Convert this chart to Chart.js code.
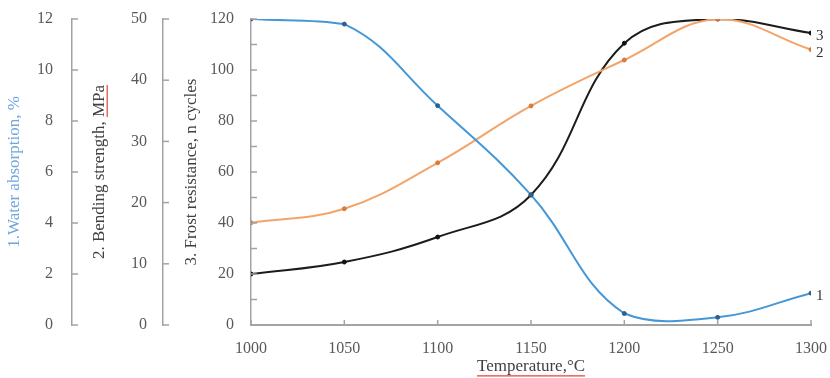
<!DOCTYPE html>
<html lang="en">
<head>
  <meta charset="UTF-8" />
  <title>Firing temperature vs ceramic properties</title>
  <script src="https://cdn.jsdelivr.net/npm/chart.js"></script>
  <style>
    html, body { margin: 0; padding: 0; background: #fff; }
    .wrap { width: 830px; height: 378px; }
  </style>
</head>
<body>
  <div class="wrap"><canvas id="propsChart"></canvas></div>
  <script>
    // values
    const temps = [1000, 1050, 1100, 1150, 1200, 1250, 1300];
    const waterAbsorption = [12, 11.8, 8.6, 5.1, 0.45, 0.3, 1.25];
    const bendingStrength = [16.7, 19, 26.5, 35.8, 43.3, 50, 45];
    const frostResistance = [20, 24.7, 34.5, 51, 110.5, 120, 114.5];
    const seriesTags = ['1', '2', '3'];

    const axisColor = '#a3a3a3';
    const textColor = '#595959';
    const serif = 'Liberation Serif, Times New Roman, serif';

    const toPoints = ys => temps.map((t, i) => ({ x: t, y: ys[i] }));

    // small inward tick marks along each axis line
    const minorStep = { x: 50, yWater: 2, yBend: 10, yFrost: 10 };
    const innerTicks = {
      id: 'innerTicks',
      afterDraw(chart) {
        const ctx = chart.ctx;
        ctx.save();
        ctx.strokeStyle = axisColor;
        ctx.lineWidth = 1.5;
        Object.values(chart.scales).forEach(scale => {
          const step = minorStep[scale.id];
          for (let v = scale.min; v <= scale.max + 1e-9; v += step) {
            const p = scale.getPixelForValue(v);
            ctx.beginPath();
            if (scale.isHorizontal()) {
              ctx.moveTo(p, scale.top);
              ctx.lineTo(p, scale.top - 5);
            } else {
              ctx.moveTo(scale.right, p);
              ctx.lineTo(scale.right + 6, p);
            }
            ctx.stroke();
          }
        });
        ctx.restore();
      }
    };

    // curve numbers at the right end of each line
    const endTags = {
      id: 'endTags',
      afterDatasetsDraw(chart) {
        const ctx = chart.ctx;
        ctx.save();
        ctx.font = '15px ' + serif;
        ctx.fillStyle = '#333';
        ctx.textBaseline = 'middle';
        chart.data.datasets.forEach((ds, i) => {
          const pts = chart.getDatasetMeta(i).data;
          const last = pts[pts.length - 1];
          ctx.fillText(seriesTags[i], last.x + 5, last.y + 3);
        });
        ctx.restore();
      }
    };

    // red spell-check underline seen under two of the titles
    const spellMarks = {
      id: 'spellMarks',
      afterDraw(chart) {
        const ctx = chart.ctx;
        const area = chart.chartArea;
        ctx.save();
        ctx.strokeStyle = '#e0453a';
        ctx.lineWidth = 1.2;
        ctx.font = '17px ' + serif;
        // x axis title
        const xs = chart.scales.x;
        const xText = xs.options.title.text;
        const w = ctx.measureText(xText).width;
        const cx = (area.left + area.right) / 2;
        const ty = xs.bottom - 1 - 10.2 + 9;
        ctx.beginPath();
        ctx.moveTo(cx - w / 2, ty);
        ctx.lineTo(cx + w / 2, ty);
        ctx.stroke();
        // "MPa" on the bending strength title
        const bs = chart.scales.yBend;
        const bText = bs.options.title.text;
        const bw = ctx.measureText(bText).width;
        const uw = ctx.measureText('MPa').width;
        const bx = bs.left + bs.options.title.padding.top + 10.2 + 8;
        const by = (area.top + area.bottom) / 2;
        ctx.beginPath();
        ctx.moveTo(bx, by - bw / 2);
        ctx.lineTo(bx, by - bw / 2 + uw);
        ctx.stroke();
        ctx.restore();
      }
    };

    // fixed box sizes, no extra label overhang padding
    const fixSize = (w, h) => s => {
      if (w) s.width = w;
      if (h) s.height = h;
      s.paddingTop = 0;
      s.paddingBottom = 0;
      s.paddingLeft = 0;
      s.paddingRight = 0;
    };

    const yAxis = (min, max, step, weight, width, title, titleColor, titlePad, labelPad) => ({
      type: 'linear',
      position: 'left',
      weight: weight,
      min: min,
      max: max,
      afterFit: fixSize(width, 0),
      grid: { display: false, drawTicks: false },
      border: { display: true, color: axisColor, width: 1.5 },
      ticks: {
        stepSize: step,
        padding: labelPad,
        color: textColor,
        font: { family: serif, size: 16 }
      },
      title: {
        display: true,
        text: title,
        color: titleColor,
        padding: { top: titlePad, bottom: 0 },
        font: { family: serif, size: 17 }
      }
    });

    const ctx = document.getElementById('propsChart').getContext('2d');
    new Chart(ctx, {
      type: 'line',
      data: {
        datasets: [
          {
            label: 'Water absorption',
            data: toPoints(waterAbsorption),
            yAxisID: 'yWater',
            borderColor: '#4597d6',
            pointBackgroundColor: '#2d5f8a',
            pointBorderColor: '#2d5f8a'
          },
          {
            label: 'Bending strength',
            data: toPoints(bendingStrength),
            yAxisID: 'yBend',
            borderColor: '#f3a469',
            pointBackgroundColor: '#d9793a',
            pointBorderColor: '#d9793a'
          },
          {
            label: 'Frost resistance',
            data: toPoints(frostResistance),
            yAxisID: 'yFrost',
            borderColor: '#1c1c1c',
            pointBackgroundColor: '#111',
            pointBorderColor: '#111'
          }
        ]
      },
      options: {
        responsive: true,
        maintainAspectRatio: false,
        animation: false,
        layout: { padding: { top: 19, right: 19, left: 0, bottom: 0 } },
        elements: {
          line: { borderWidth: 2, tension: 0.4 },
          point: { radius: 2, hoverRadius: 2 }
        },
        plugins: {
          legend: { display: false },
          tooltip: { enabled: false }
        },
        scales: {
          x: {
            type: 'linear',
            position: 'bottom',
            min: 1000,
            max: 1300,
            afterFit: fixSize(0, 53),
            grid: { display: false, drawTicks: false },
            border: { display: true, color: axisColor, width: 2 },
            ticks: {
              stepSize: 50,
              padding: 14,
              color: textColor,
              font: { family: serif, size: 16 },
              callback: v => String(v)
            },
            title: {
              display: true,
              text: 'Temperature,°C',
              color: '#404040',
              padding: { top: 0, bottom: 1 },
              font: { family: serif, size: 17 }
            }
          },
          yWater: yAxis(0, 12, 2, 3, 72, '1.Water absorption, %', '#6fa6dc', 4, 19),
          yBend: yAxis(0, 50, 10, 2, 91, '2. Bending strength, MPa', '#404040', 17, 16),
          yFrost: yAxis(0, 120, 20, 1, 88, '3. Frost resistance, n cycles', '#404040', 18, 17)
        }
      },
      plugins: [innerTicks, endTags, spellMarks]
    });
  </script>
</body>
</html>
